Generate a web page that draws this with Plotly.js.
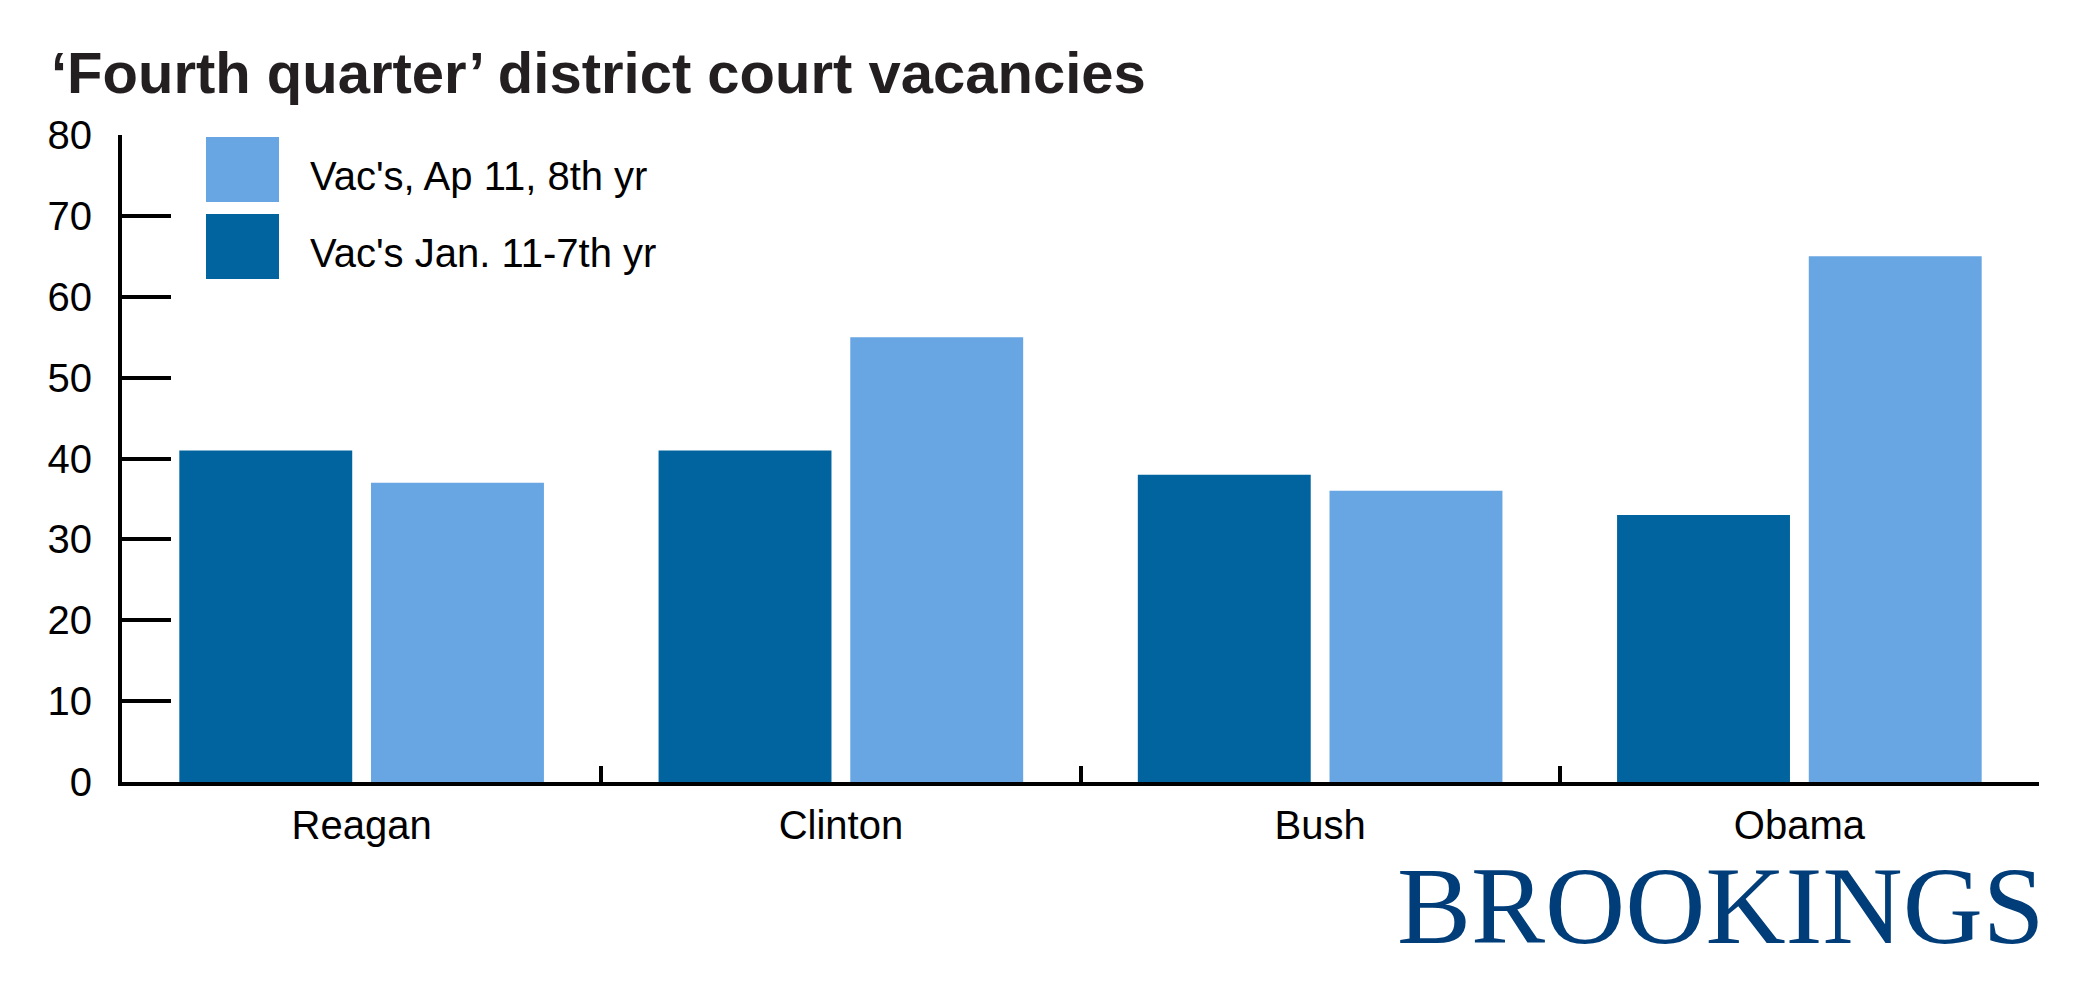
<!DOCTYPE html>
<html>
<head>
<meta charset="utf-8">
<script src="https://cdn.plot.ly/plotly-3.0.1.min.js"></script>
<style>html,body{margin:0;padding:0;background:#fff;}#chart{width:2100px;height:990px;}</style>
</head>
<body>
<div id="chart"></div>
<script>
const categories = ["Reagan", "Clinton", "Bush", "Obama"];
const seriesJanName = "Vac's Jan. 11-7th yr";
const seriesJan = [41, 41, 38, 33];
const seriesAprName = "Vac's, Ap 11, 8th yr";
const seriesApr = [37, 55, 36, 65];
const yTicks = [0, 10, 20, 30, 40, 50, 60, 70, 80];
const titleText = "\u2018Fourth quarter\u2019 district court vacancies";
const brandText = "BROOKINGS";

const darkBlue = "rgb(2,100,158)";
const lightBlue = "rgb(103,165,227)";
const font = "Liberation Sans, Arial, sans-serif";

const traces = [
  {type: "bar", name: seriesJanName, x: categories, y: seriesJan, marker: {color: darkBlue}, showlegend: false, hoverinfo: "none"},
  {type: "bar", name: seriesAprName, x: categories, y: seriesApr, marker: {color: lightBlue}, showlegend: false, hoverinfo: "none"}
];

const layout = {
  width: 2100, height: 990,
  margin: {l: 122, r: 61, t: 135, b: 208},
  paper_bgcolor: "#fff", plot_bgcolor: "#fff",
  barmode: "group", bargap: 0.2, bargroupgap: 0.098,
  font: {family: font, color: "#000", size: 40},
  title: {text: titleText, font: {family: font, size: 58, color: "#231f20", weight: "bold"},
          xref: "container", x: 51/2100, xanchor: "left", yref: "container", y: 1 - 73/990, yanchor: "middle"},
  xaxis: {type: "category", showgrid: false, zeroline: false, showline: true, linecolor: "#000", linewidth: 4,
          ticks: "inside", tickson: "boundaries", ticklen: 16, tickwidth: 4, tickcolor: "#000",
          tickfont: {family: font, size: 40, color: "#000"}, ticklabelstandoff: 5, fixedrange: true},
  yaxis: {range: [0, 80], tickvals: yTicks, showgrid: false, zeroline: false, showline: true, linecolor: "#000", linewidth: 4,
          ticks: "inside", ticklen: 49, tickwidth: 4, tickcolor: "#000",
          tickfont: {family: font, size: 40, color: "#000"}, ticklabelstandoff: 18, fixedrange: true},
  shapes: [
    {type: "rect", xref: "paper", yref: "paper", x0: 84/1917, x1: 157/1917, y0: 580/647, y1: 645/647, fillcolor: lightBlue, line: {width: 0}},
    {type: "rect", xref: "paper", yref: "paper", x0: 84/1917, x1: 157/1917, y0: 503/647, y1: 568/647, fillcolor: darkBlue, line: {width: 0}}
  ],
  annotations: [
    {text: seriesAprName, xref: "paper", yref: "paper", x: 186/1917, y: (782-176)/647, xanchor: "left", yanchor: "middle", showarrow: false, font: {family: font, size: 40, color: "#000"}},
    {text: seriesJanName, xref: "paper", yref: "paper", x: 186/1917, y: (782-253)/647, xanchor: "left", yanchor: "middle", showarrow: false, font: {family: font, size: 40, color: "#000"}},
    {text: brandText, xref: "paper", yref: "paper", x: 1, y: (782-905)/647, xanchor: "right", yanchor: "middle", xshift: 8, showarrow: false, font: {family: "Liberation Serif, Times New Roman, serif", size: 111, color: "rgb(0,61,121)"}}
  ]
};

Plotly.newPlot("chart", traces, layout, {displayModeBar: false, staticPlot: true});
</script>
</body>
</html>
